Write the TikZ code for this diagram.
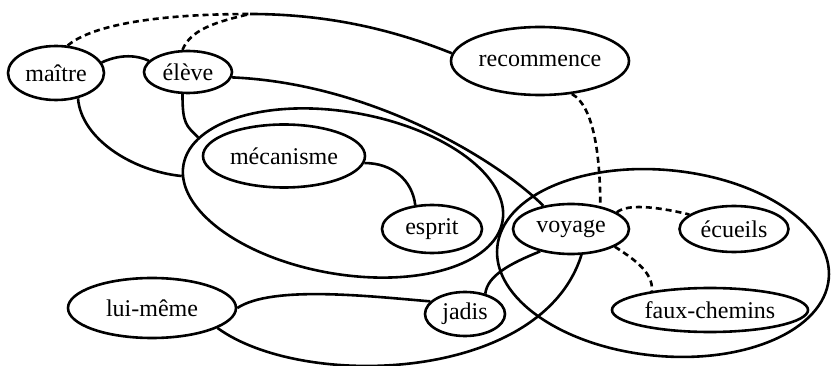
\documentclass[tikz,border=0pt]{standalone}
\usepackage{fontspec}
\setmainfont{Liberation Serif}
\usetikzlibrary{shapes.geometric}

\begin{document}
\begin{tikzpicture}[x=1pt, y=-1pt, line width=2.6pt,
  cpt/.style={draw, ellipse, inner sep=0pt, font=\fontsize{24}{28}\selectfont},
  grp/.style={draw, ellipse, inner sep=0pt},
  dsh/.style={dash pattern=on 6pt off 4pt}]
\useasboundingbox (0,0) rectangle (831,366);
\node[grp, minimum width=324pt, minimum height=162pt, rotate=-10] (gL) at (343,193) {};
\node[grp, minimum width=333pt, minimum height=186pt, rotate=-5.5] (gR) at (663,263) {};
\node[cpt, minimum width=96pt, minimum height=54pt] (maitre) at (56,73) {maître};
\node[cpt, minimum width=88pt, minimum height=42pt] (eleve) at (188,72) {élève};
\node[cpt, minimum width=178pt, minimum height=68pt] (recomm) at (540,61) {recommence};
\node[cpt, minimum width=162pt, minimum height=63pt] (meca) at (284,156) {mécanisme};
\node[cpt, minimum width=100pt, minimum height=48pt] (esprit) at (432,229) {esprit};
\node[cpt, minimum width=116pt, minimum height=50pt] (voyage) at (571,229) {voyage};
\node[cpt, minimum width=109pt, minimum height=46pt] (ecueils) at (734,229) {écueils};
\node[cpt, minimum width=196pt, minimum height=44pt] (faux) at (710,310) {faux-chemins};
\node[cpt, minimum width=80pt, minimum height=44pt] (jadis) at (465,314) {jadis};
\node[cpt, minimum width=168pt, minimum height=60pt] (lui) at (152,308) {lui-même};
\coordinate (j) at (250,14);
\draw (maitre.13) .. controls +(15,-7) and +(-15,-7) .. (eleve.164);
\draw[dsh] (maitre.67) .. controls +(30,-25) and +(-70,0) .. (j);
\draw[dsh] (eleve.104) .. controls +(8,-20) and +(-35,8) .. (j);
\draw (j) .. controls +(90,0) and +(-45,-18) .. (recomm.175);
\draw (eleve.-7) .. controls +(140,6) and +(-45,-45) .. (voyage.140);
\draw (eleve.-104) .. controls +(0,30) and +(-12,-12) .. (gL.169);
\draw (maitre.-49) .. controls +(3,40) and +(-50,-5) .. (gL.184);
\draw (meca.-5) .. controls +(28,0) and +(-3,-25) .. (esprit.125);
\draw[dsh] (recomm.-46) .. controls +(22,12) and +(0,-50) .. (voyage.38);
\draw[dsh] (voyage.20) .. controls +(12,-10) and +(-25,-6) .. (ecueils.162);
\draw[dsh] (voyage.-22) .. controls +(15,10) and +(2,-20) .. (faux.162);
\draw (voyage.-144) .. controls +(-30,12) and +(2,-18) .. (jadis.45);
\draw (lui.0) .. controls +(35,-23) and +(-60,-5) .. (jadis.160);
\draw (lui.-17) .. controls +(85,62) and +(-40,128) .. (voyage.-68);
\end{tikzpicture}
\end{document}
